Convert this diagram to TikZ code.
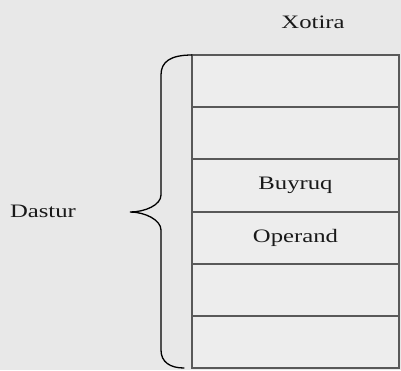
\documentclass[tikz,border=0pt]{standalone}
\usepackage{fontspec}
\setmainfont{Liberation Serif}
\usetikzlibrary{positioning}

\tikzset{
  cell/.style={draw=gray!70!black, line width=2pt, fill=gray!14,
    minimum width=207pt, minimum height=52.2pt, outer sep=0pt, inner sep=0pt},
  lbl/.style={font=\fontsize{19}{21}\selectfont, text=black!90}
}
\newcommand{\wide}[1]{\scalebox{1.3}[1]{#1}}

\begin{document}
\begin{tikzpicture}[x=1pt, y=-1pt]
    \useasboundingbox[fill=gray!18] (0,0) rectangle (401,370);
    \node[lbl] (xotira) at (313,22) {\wide{Xotira}};
    \node[cell] (m1) at (295.5,81.1) {};
    \node[cell, below=0pt of m1] (m2) {};
    \node[cell, below=0pt of m2, lbl] (m3) {\wide{Buyruq}};
    \node[cell, below=0pt of m3, lbl] (m4) {\wide{Operand}};
    \node[cell, below=0pt of m4] (m5) {};
    \node[cell, below=0pt of m5] (m6) {};
    \coordinate (tip) at (130,212);
    \draw[line width=1.3pt, line cap=round]
    (m1.north west) .. controls (170,55) and (161,62) .. (161,75) -- (161,195)
    .. controls (161,205) and (145,212) .. (tip)
    .. controls (145,212) and (161,220) .. (161,230) -- (161,350)
    .. controls (161,362) and (170,368) .. (184,368);
    \node[lbl] (dastur) at (43,211) {\wide{Dastur}};
\end{tikzpicture}
\end{document}
